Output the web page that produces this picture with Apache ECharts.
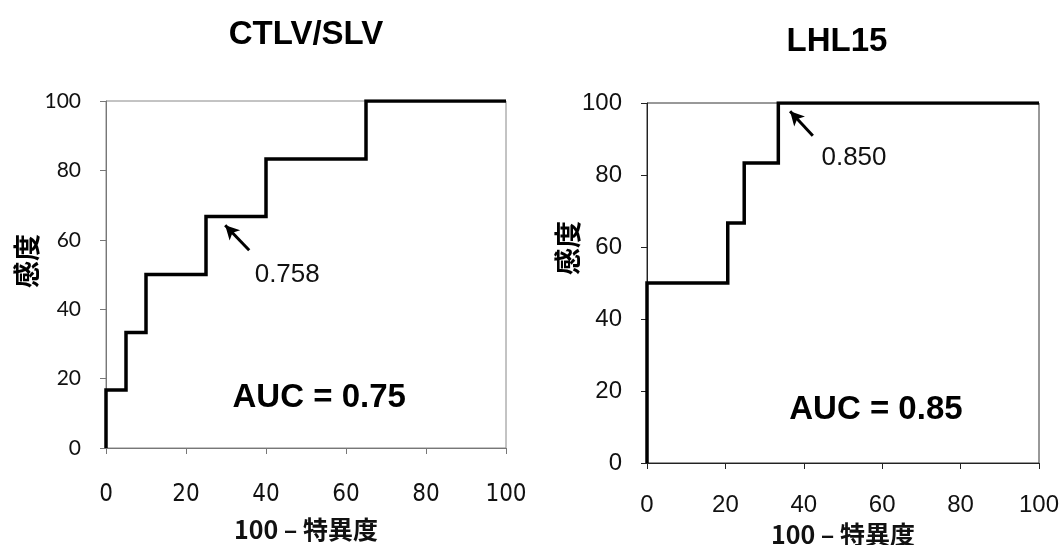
<!DOCTYPE html>
<html>
<head>
<meta charset="utf-8">
<script src="https://cdn.jsdelivr.net/npm/echarts@6/dist/echarts.min.js"></script>
<style>
  html, body { margin: 0; padding: 0; background: #fff; }
  #chart { width: 1062px; height: 545px; }
</style>
</head>
<body>
<div id="chart"></div>
<script>
// ROC 曲线数据 (100-特異度, 感度)
const titles = ['CTLV/SLV', 'LHL15'];
const leftFpr = [0, 0, 5, 5, 10, 10, 25, 25, 40, 40, 65, 65, 100];
const leftTpr = [0, 16.7, 16.7, 33.3, 33.3, 50, 50, 66.7, 66.7, 83.3, 83.3, 100, 100];
const rightFpr = [0, 0, 20.6, 20.6, 24.8, 24.8, 33.5, 33.5, 100];
const rightTpr = [0, 50, 50, 66.7, 66.7, 83.3, 83.3, 100, 100];
const cutoffLabels = ['0.758', '0.850'];
const aucLabels = ['AUC = 0.75', 'AUC = 0.85'];
// 注释位置 (数据坐标)
const arrowLeft = [[35.8, 57], [29.8, 64.2]];
const arrowRight = [[42.3, 90.9], [36.5, 97.7]];
const cutoffPos = [[45.3, 49.8], [52.8, 84.8]];
const aucPos = [[53.3, 14.3], [58.4, 14.8]];

function pairs(xs, ys) {
  return xs.map((x, i) => [x, ys[i]]);
}

const chart = echarts.init(document.getElementById('chart'));

function xAxisCfg(idx, font, size, margin, nameGap, lineColor) {
  return {
    gridIndex: idx, type: 'value', min: 0, max: 100, interval: 20,
    axisLine: { show: true, onZero: false, lineStyle: { color: lineColor, width: 1 } },
    axisTick: { show: true, length: 6, lineStyle: { color: lineColor } },
    splitLine: { show: false },
    axisLabel: { color: '#111', fontFamily: font, fontSize: size, margin: margin },
    name: '100 – 特異度', nameLocation: 'middle', nameGap: nameGap,
    nameTextStyle: { color: '#111', fontFamily: 'Noto Sans CJK JP', fontWeight: 'bold', fontSize: 25 }
  };
}

function yAxisCfg(idx, font, size, lineColor) {
  return {
    gridIndex: idx, type: 'value', min: 0, max: 100, interval: 20,
    axisLine: { show: true, onZero: false, lineStyle: { color: lineColor, width: 1 } },
    axisTick: { show: true, length: 6, lineStyle: { color: lineColor } },
    splitLine: { show: false },
    axisLabel: { color: '#111', fontFamily: font, fontSize: size, margin: 25 }
  };
}

function rocSeries(idx, data, arrow, cutoff, cutPos, auc, aPos) {
  return {
    type: 'line', xAxisIndex: idx, yAxisIndex: idx,
    data: data, showSymbol: false, symbol: 'none', silent: true,
    lineStyle: { color: '#000', width: 3.5, join: 'miter' },
    markLine: {
      silent: true, symbol: ['none', 'arrow'], symbolSize: [11, 14],
      label: { show: false },
      lineStyle: { color: '#000', width: 3, type: 'solid' },
      data: [[{ coord: arrow[0] }, { coord: arrow[1] }]]
    },
    markPoint: {
      silent: true, symbol: 'circle', symbolSize: 1,
      itemStyle: { color: 'rgba(0,0,0,0)' },
      data: [
        { coord: cutPos, name: cutoff,
          label: { show: true, position: 'inside', formatter: '{b}', color: '#111',
                   fontFamily: 'Liberation Sans', fontSize: 26 } },
        { coord: aPos, name: auc,
          label: { show: true, position: 'inside', formatter: '{b}', color: '#000',
                   fontFamily: 'Liberation Sans', fontWeight: 'bold', fontSize: 33 } }
      ]
    }
  };
}

const option = {
  backgroundColor: '#fff',
  animation: false,
  title: [
    { text: titles[0], left: 301, top: 13, textAlign: 'center',
      textStyle: { fontFamily: 'Liberation Sans', fontWeight: 'bold', fontSize: 33, color: '#000' } },
    { text: titles[1], left: 832, top: 20, textAlign: 'center',
      textStyle: { fontFamily: 'Liberation Sans', fontWeight: 'bold', fontSize: 33, color: '#000' } }
  ],
  grid: [
    { left: 106, top: 101, width: 400, height: 347, show: true, borderColor: '#888', borderWidth: 1,
      containLabel: false, outerBoundsMode: 'none' },
    { left: 647, top: 103, width: 392, height: 360, show: true, borderColor: '#333', borderWidth: 1,
      containLabel: false, outerBoundsMode: 'none' }
  ],
  xAxis: [
    xAxisCfg(0, '"DejaVu Sans Condensed", Lato', 24, 35, 69, '#777'),
    xAxisCfg(1, 'Liberation Sans', 24, 30, 57, '#222')
  ],
  yAxis: [
    yAxisCfg(0, 'Lato', 21, '#777'),
    yAxisCfg(1, 'Liberation Sans', 24, '#222')
  ],
  graphic: [
    { type: 'text', x: 27, y: 261, rotation: Math.PI / 2,
      style: { text: '感度', fill: '#000', font: 'bold 27px "Noto Sans CJK JP"', align: 'center', verticalAlign: 'middle' } },
    { type: 'text', x: 568, y: 248, rotation: Math.PI / 2,
      style: { text: '感度', fill: '#000', font: 'bold 27px "Noto Sans CJK JP"', align: 'center', verticalAlign: 'middle' } }
  ],
  series: [
    rocSeries(0, pairs(leftFpr, leftTpr), arrowLeft, cutoffLabels[0], cutoffPos[0], aucLabels[0], aucPos[0]),
    rocSeries(1, pairs(rightFpr, rightTpr), arrowRight, cutoffLabels[1], cutoffPos[1], aucLabels[1], aucPos[1])
  ]
};

chart.setOption(option);
</script>
</body>
</html>
